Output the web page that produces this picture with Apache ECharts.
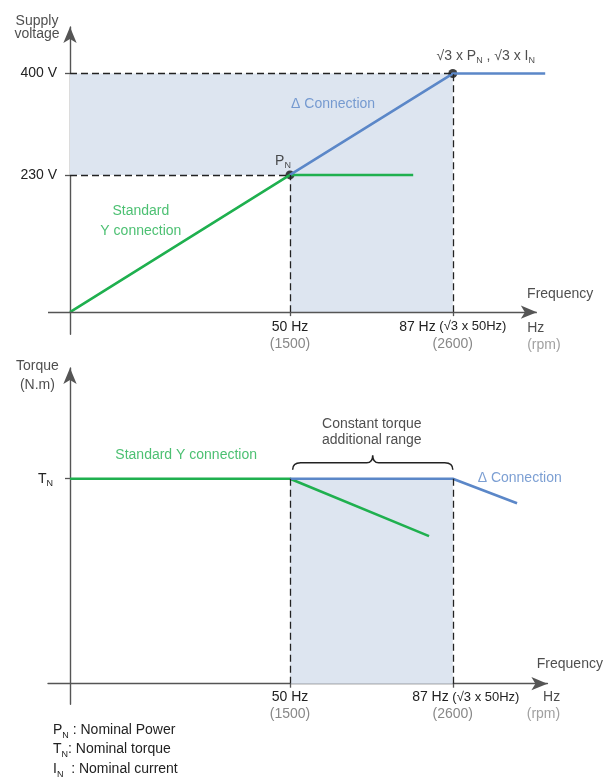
<!DOCTYPE html>
<html>
<head>
<meta charset="utf-8">
<script src="https://cdn.jsdelivr.net/npm/echarts@6/dist/echarts.min.js"></script>
<style>
html,body{margin:0;padding:0;background:#fff;}
#chart{width:609px;height:782px;}
</style>
</head>
<body>
<div id="chart"></div>
<script>
// ---------- data ----------
const freqTicks = [50, 87];
const rpmTicks = [1500, 2600];
const freqNotes = ['', ' (√3 x 50Hz)'];
const voltTicks = [230, 400];
const yConnFreq = [0, 50, 78];
const yConnVolt = [0, 230, 230];
const dConnFreq = [50, 87, 108];
const dConnVolt = [230, 400, 400];
const yTorqueFreq = [0, 50, 81.6];
const yTorqueVal = [1, 1, 0.72];
const dTorqueFreq = [50, 87, 101.6];
const dTorqueVal = [1, 1, 0.88];
const nominalTorque = 1;

// ---------- styles ----------
const FONT = '"Liberation Sans", Arial, Helvetica, sans-serif';
const GREEN = '#1fb04f';
const BLUE = '#5b87c8';
const SHADE = '#dde5f0';
const DARK = '#222';
const GREY = '#888';
const AXIS = '#555';

const zip = (a, b) => a.map((x, i) => [x, b[i]]);
const subRich = {
  m: {fontSize: 14, color: DARK, lineHeight: 18, fontFamily: FONT},
  s: {fontSize: 9, color: DARK, lineHeight: 11, verticalAlign: 'bottom', fontFamily: FONT}
};

function freqLabel(pad) {
  return function (v) {
    const i = freqTicks.indexOf(v);
    if (i < 0) return '';
    let first = '{a|' + v + ' Hz}' + (freqNotes[i] ? '{n|' + freqNotes[i] + '}' : '');
    if (pad && freqNotes[i]) first = '{p| }' + first;
    return first + '\n{b|(' + rpmTicks[i] + ')}';
  };
}
const freqRich = {
  a: {fontSize: 14, color: DARK, lineHeight: 17, fontFamily: FONT},
  n: {fontSize: 13, color: DARK, lineHeight: 17, fontFamily: FONT},
  b: {fontSize: 14, color: GREY, lineHeight: 17, fontFamily: FONT},
  p: {width: 26, fontSize: 12, lineHeight: 17}
};

function axisLineCfg(visible) {
  return {show: true, onZero: true, symbol: visible ? ['none', 'arrow'] : 'none', symbolSize: [10, 16],
          lineStyle: {color: visible ? AXIS : 'rgba(0,0,0,0)', width: 1.4}};
}

function textItem(x, y, text, extra) {
  return Object.assign({value: [x, y], label: Object.assign({
    show: true, formatter: text, position: 'inside', fontSize: 14, color: DARK,
    fontFamily: FONT, lineHeight: 18, rich: subRich
  }, extra || {})});
}

const dashStyle = {color: DARK, type: [7, 4], width: 1.3};

const option = {
  animation: false,
  backgroundColor: '#fff',
  textStyle: {fontFamily: FONT},
  grid: [
    {left: 48, top: 27, width: 497.2, height: 307.2, outerBoundsMode: 'none', containLabel: false},
    {left: 48, top: 368, width: 499.4, height: 336.2, outerBoundsMode: 'none', containLabel: false}
  ],
  xAxis: [
    {gridIndex: 0, type: 'value', min: -5, max: 108, axisLine: axisLineCfg(false),
     axisTick: {show: true, customValues: freqTicks, length: 4, lineStyle: {color: AXIS, width: 1.3}},
     axisLabel: {show: true, customValues: freqTicks, margin: -16, formatter: freqLabel(false), rich: freqRich},
     splitLine: {show: false}},
    {gridIndex: 1, type: 'value', min: -5, max: 108.5, axisLine: axisLineCfg(true),
     axisTick: {show: true, customValues: freqTicks, length: 4, lineStyle: {color: AXIS, width: 1.3}},
     axisLabel: {show: true, customValues: freqTicks, margin: -15.5, formatter: freqLabel(true), rich: freqRich},
     splitLine: {show: false}}
  ],
  yAxis: [
    {gridIndex: 0, type: 'value', min: -37, max: 478, axisLine: axisLineCfg(true),
     axisTick: {show: true, customValues: voltTicks, length: 5, lineStyle: {color: AXIS, width: 1.3}},
     axisLabel: {show: true, customValues: voltTicks, margin: -9, fontSize: 14, color: DARK,
                 fontFamily: FONT, formatter: '{value} V'},
     splitLine: {show: false}},
    {gridIndex: 1, type: 'value', min: -0.1, max: 1.54, axisLine: axisLineCfg(true),
     axisTick: {show: true, customValues: [nominalTorque], length: 5, lineStyle: {color: AXIS, width: 1.3}},
     axisLabel: {show: true, customValues: [nominalTorque], margin: -5, formatter: '{m|T}{s|N}', rich: subRich},
     splitLine: {show: false}}
  ],
  series: [
    // top: shaded region + dashed guides
    {type: 'line', xAxisIndex: 0, yAxisIndex: 0, data: [], silent: true,
     markArea: {silent: true, itemStyle: {color: SHADE}, data: [
       [{coord: [0, voltTicks[0]]}, {coord: [freqTicks[1], voltTicks[1]]}],
       [{coord: [freqTicks[0], 0]}, {coord: [freqTicks[1], voltTicks[0]]}]
     ]},
     markLine: {silent: true, symbol: 'none', label: {show: false}, lineStyle: dashStyle, data: [
       [{coord: [0, voltTicks[1]]}, {coord: [freqTicks[1], voltTicks[1]]}],
       [{coord: [0, voltTicks[0]]}, {coord: [freqTicks[0], voltTicks[0]]}],
       [{coord: [freqTicks[0], 0]}, {coord: [freqTicks[0], voltTicks[0]]}],
       [{coord: [freqTicks[1], 0]}, {coord: [freqTicks[1], voltTicks[1]]}]
     ]}},
    // top: frequency axis line with arrow
    {type: 'line', xAxisIndex: 0, yAxisIndex: 0, data: [], silent: true,
     markLine: {silent: true, symbol: ['none', 'arrow'], symbolSize: [10, 16], label: {show: false},
       lineStyle: {color: AXIS, width: 1.4, type: 'solid'},
       data: [[{coord: [-5, 0]}, {coord: [106.1, 0]}]]}},
    {type: 'line', xAxisIndex: 0, yAxisIndex: 0, data: zip(yConnFreq, yConnVolt), symbol: 'none',
     lineStyle: {color: GREEN, width: 2.6}},
    {type: 'line', xAxisIndex: 0, yAxisIndex: 0, data: zip(dConnFreq, dConnVolt), symbol: 'none',
     lineStyle: {color: BLUE, width: 2.6}},
    {type: 'scatter', xAxisIndex: 0, yAxisIndex: 0, symbolSize: 9, itemStyle: {color: '#111'},
     data: [[yConnFreq[1], yConnVolt[1]], [dConnFreq[1], dConnVolt[1]]]},
    // top: texts
    {type: 'scatter', xAxisIndex: 0, yAxisIndex: 0, symbolSize: 0, clip: false, silent: true,
     data: [
       textItem(-7.5, 477, 'Supply\nvoltage', {lineHeight: 13}),
       textItem(16.1, 152.5, 'Standard\nY connection', {color: GREEN, lineHeight: 20}),
       textItem(59.8, 349, '\u0394 Connection', {color: BLUE}),
       textItem(48.4, 253, '{m|P}{s|N}'),
       textItem(94.5, 429, '{m|√3 x P}{s|N}{m| , √3 x I}{s|N}'),
       textItem(111.4, 30, 'Frequency'),
       textItem(103.9, -41, 'Hz\n{g|(rpm)}', {position: 'right', distance: 0, lineHeight: 17,
         rich: {g: {color: GREY, fontSize: 14, lineHeight: 17, fontFamily: FONT}}})
     ]},
    // bottom: shaded + dashed
    {type: 'line', xAxisIndex: 1, yAxisIndex: 1, data: [], silent: true,
     markArea: {silent: true, itemStyle: {color: SHADE}, data: [
       [{coord: [freqTicks[0], 0]}, {coord: [freqTicks[1], nominalTorque]}]
     ]},
     markLine: {silent: true, symbol: 'none', label: {show: false}, lineStyle: dashStyle, data: [
       [{coord: [freqTicks[0], 0]}, {coord: [freqTicks[0], nominalTorque]}],
       [{coord: [freqTicks[1], 0]}, {coord: [freqTicks[1], nominalTorque]}]
     ]}},
    {type: 'line', xAxisIndex: 1, yAxisIndex: 1, data: zip(yTorqueFreq, yTorqueVal), symbol: 'none',
     clip: false, lineStyle: {color: GREEN, width: 2.6}},
    {type: 'line', xAxisIndex: 1, yAxisIndex: 1, data: zip(dTorqueFreq, dTorqueVal), symbol: 'none',
     clip: false, lineStyle: {color: BLUE, width: 2.6}},
    // brace over constant torque range
    {type: 'custom', xAxisIndex: 1, yAxisIndex: 1, silent: true, clip: false,
     data: [[freqTicks[0], freqTicks[1]]],
     renderItem: function (params, api) {
       const x1 = api.coord([api.value(0) + 0.6, 1.044])[0];
       const x2 = api.coord([api.value(1), 1.044])[0];
       const yb = api.coord([0, 1.044])[1];
       const yh = api.coord([0, 1.078])[1];
       const yt = api.coord([0, 1.115])[1];
       const xm = (x1 + x2) / 2;
       const d = 'M' + x1 + ',' + yb + ' Q' + x1 + ',' + yh + ' ' + (x1 + 8) + ',' + yh +
         ' L' + (xm - 6) + ',' + yh + ' Q' + xm + ',' + yh + ' ' + xm + ',' + yt +
         ' Q' + xm + ',' + yh + ' ' + (xm + 6) + ',' + yh +
         ' L' + (x2 - 8) + ',' + yh + ' Q' + x2 + ',' + yh + ' ' + x2 + ',' + yb;
       return {type: 'path', shape: {pathData: d}, style: {stroke: DARK, fill: null, lineWidth: 1.5}};
     }},
    // bottom texts
    {type: 'scatter', xAxisIndex: 1, yAxisIndex: 1, symbolSize: 0, clip: false, silent: true,
     data: [
       textItem(-7.4, 1.501, 'Torque\n(N.m)', {lineHeight: 19}),
       textItem(26.4, 1.116, 'Standard Y connection', {color: GREEN}),
       textItem(68.6, 1.228, 'Constant torque\nadditional range', {lineHeight: 16}),
       textItem(102.2, 1.001, '\u0394 Connection', {color: BLUE}),
       textItem(113.6, 0.096, 'Frequency'),
       textItem(111.4, -0.106, 'Hz\n{g|(rpm)}', {position: 'left', distance: 0, lineHeight: 17,
         rich: {g: {color: GREY, fontSize: 14, lineHeight: 17, fontFamily: FONT}}})
     ]}
  ],
  graphic: [
    {type: 'text', left: 53, top: 723, style: {
      text: '{m|P}{s|N}{m| : Nominal Power}\n{m|T}{s|N}{m|: Nominal torque}\n{m|I}{s|N}{m|  : Nominal current}',
      rich: {
        m: {fontSize: 14, fill: DARK, lineHeight: 19.5, fontFamily: FONT},
        s: {fontSize: 9, fill: DARK, lineHeight: 11, verticalAlign: 'bottom', fontFamily: FONT}
      }
    }}
  ]
};

const chart = echarts.init(document.getElementById('chart'), null, {renderer: 'canvas'});
chart.setOption(option);
</script>
</body>
</html>
